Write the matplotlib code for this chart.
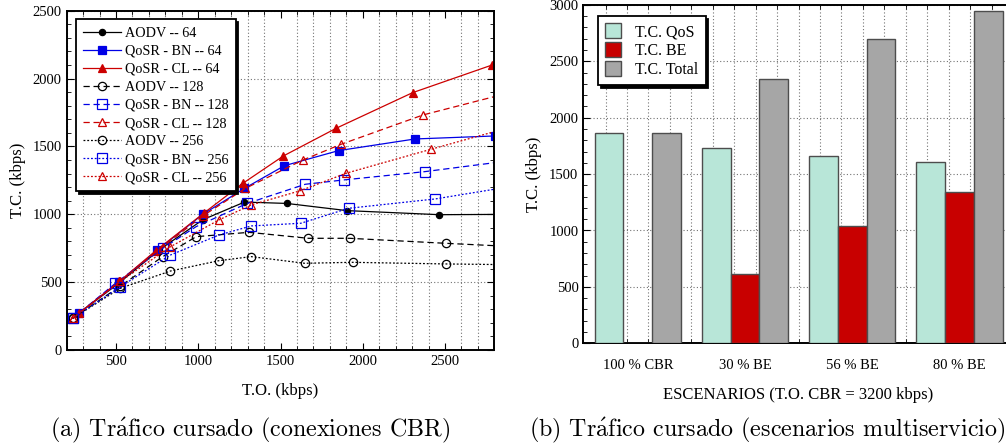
import matplotlib
matplotlib.use("Agg")
import matplotlib.pyplot as plt
from matplotlib.ticker import MultipleLocator, FixedLocator
import numpy as np

# ---- datos (a): trafico cursado vs trafico ofrecido ----
x_aodv_64 = [273, 520, 760, 1028, 1281, 1537, 1904, 2466, 3000]
y_aodv_64 = [270, 495, 735, 960, 1090, 1080, 1027, 997, 1000]
x_bn_64 = [273, 520, 750, 1028, 1281, 1524, 1853, 2318, 2802]
y_bn_64 = [270, 503, 735, 1000, 1191, 1358, 1469, 1555, 1577]
x_cl_64 = [273, 520, 740, 1032, 1271, 1518, 1839, 2303, 2787]
y_cl_64 = [270, 505, 730, 1007, 1228, 1430, 1634, 1896, 2100]

x_aodv_128 = [236, 525, 784, 987, 1308, 1670, 1920, 2507, 3000]
y_aodv_128 = [233, 470, 688, 835, 867, 823, 823, 786, 757]
x_bn_128 = [236, 496, 784, 987, 1297, 1650, 1884, 2376, 3000]
y_bn_128 = [233, 491, 749, 909, 1080, 1221, 1253, 1314, 1411]
x_cl_128 = [236, 520, 784, 1030, 1287, 1636, 1869, 2367, 3000]
y_cl_128 = [233, 505, 761, 990, 1191, 1400, 1516, 1732, 1929]

x_aodv_256 = [236, 526, 831, 1125, 1322, 1646, 1938, 2507, 3000]
y_aodv_256 = [233, 455, 582, 658, 688, 639, 646, 634, 627]
x_bn_256 = [236, 526, 831, 1125, 1322, 1624, 1914, 2441, 3000]
y_bn_256 = [233, 466, 700, 847, 914, 934, 1044, 1113, 1224]
x_cl_256 = [236, 526, 831, 1125, 1322, 1616, 1898, 2415, 3000]
y_cl_256 = [233, 505, 761, 958, 1069, 1172, 1302, 1479, 1676]

# ---- datos (b): escenarios multiservicio ----
escenarios = ["100 % CBR", "30 % BE", "56 % BE", "80 % BE"]
tc_qos = [1862, 1734, 1663, 1610]
tc_be = [0, 612, 1037, 1341]
tc_total = [1862, 2343, 2698, 2949]

SERIF = ["Liberation Serif", "DejaVu Serif"]
plt.rcParams["font.family"] = SERIF
plt.rcParams["font.size"] = 10
plt.rcParams["mathtext.fontset"] = "cm"

RED = "#cc0000"
BLUE = "#0000e6"
DASH = (0, (5, 3))
DOT = (0, (1.5, 1.5))
grid_kw = dict(color="0.45", linestyle=(0, (1, 2)), linewidth=0.8)

fig = plt.figure(figsize=(10.06, 4.48), dpi=100)

# ================= (a) =================
ax = fig.add_axes([66.7 / 1006, 98 / 448, 427.6 / 1006, 339.3 / 448])

series = [
    (x_aodv_64, y_aodv_64, "AODV -- 64", "k", "-", "o", True, 4.5),
    (x_bn_64, y_bn_64, "QoSR - BN -- 64", BLUE, "-", "s", True, 5.5),
    (x_cl_64, y_cl_64, "QoSR - CL -- 64", RED, "-", "^", True, 6),
    (x_aodv_128, y_aodv_128, "AODV -- 128", "k", DASH, "o", False, 6),
    (x_bn_128, y_bn_128, "QoSR - BN -- 128", BLUE, DASH, "s", False, 6.5),
    (x_cl_128, y_cl_128, "QoSR - CL -- 128", RED, DASH, "^", False, 6),
    (x_aodv_256, y_aodv_256, "AODV -- 256", "k", DOT, "o", False, 6),
    (x_bn_256, y_bn_256, "QoSR - BN -- 256", BLUE, DOT, "s", False, 6.5),
    (x_cl_256, y_cl_256, "QoSR - CL -- 256", RED, DOT, "^", False, 6),
]
for xs, ys, lbl, c, ls, mk, filled, ms in series:
    ax.plot(xs, ys, color=c, linestyle=ls, linewidth=0.9, marker=mk,
            markersize=ms, markerfacecolor=c if filled else "none",
            markeredgecolor=c, markeredgewidth=0.9, label=lbl)

ax.set_xlim(200, 2800)
ax.set_ylim(0, 2500)
ax.xaxis.set_major_locator(FixedLocator([500, 1000, 1500, 2000, 2500]))
ax.xaxis.set_minor_locator(MultipleLocator(100))
ax.yaxis.set_major_locator(MultipleLocator(500))
ax.yaxis.set_minor_locator(MultipleLocator(100))
ax.grid(True, which="minor", axis="x", **grid_kw)
ax.grid(True, which="major", axis="y", **grid_kw)
ax.tick_params(which="both", direction="in", top=True, right=True, labelsize=10.5)
ax.tick_params(which="major", length=5)
ax.tick_params(which="minor", length=3)
for s in ax.spines.values():
    s.set_linewidth(1.4)
ax.set_xlabel("T.O. (kbps)", fontsize=12, labelpad=11)
ax.set_ylabel("T.C. (kbps)", fontsize=12, labelpad=5)

leg = ax.legend(loc="upper left", bbox_to_anchor=(0.005, 0.995), fontsize=10.2,
                frameon=True, fancybox=False, edgecolor="k", framealpha=1,
                shadow={"color": "k", "alpha": 1}, handlelength=2.7,
                handletextpad=0.25, labelspacing=0.36, borderpad=0.5)
leg.get_frame().set_linewidth(1.3)
leg.set_zorder(10)

# ================= (b) =================
bx = fig.add_axes([583.3 / 1006, 104.7 / 448, 430.6 / 1006, 338.4 / 448])

pos = np.arange(len(escenarios))
w = 0.268
bar_kw = dict(width=w, edgecolor="0.3", linewidth=1.0, zorder=3)
bx.bar(pos - w, tc_qos, color="#b8e6d8", label="T.C. QoS", **bar_kw)
bx.bar(pos, tc_be, color="#c80000", label="T.C. BE", **bar_kw)
bx.bar(pos + w, tc_total, color="#a6a6a6", label="T.C. Total", **bar_kw)

bx.set_xlim(-0.508, 3.508)
bx.set_ylim(0, 3000)
bx.set_xticks(pos)
bx.set_xticklabels(escenarios, fontsize=10.7)
bx.xaxis.set_minor_locator(FixedLocator(np.arange(-0.3, 3.5, 0.2)))
bx.yaxis.set_major_locator(MultipleLocator(500))
bx.yaxis.set_minor_locator(MultipleLocator(100))
bx.set_axisbelow(True)
bx.grid(True, which="minor", axis="x", **grid_kw)
bx.grid(True, which="major", axis="y", **grid_kw)
bx.tick_params(which="both", direction="in", top=True, labelsize=10.5)
bx.tick_params(axis="x", which="major", length=0, pad=11)
bx.tick_params(which="minor", length=3)
bx.tick_params(axis="y", which="major", length=5)
for s in bx.spines.values():
    s.set_linewidth(1.4)
bx.spines["right"].set_visible(False)
bx.set_xlabel("ESCENARIOS (T.O. CBR = 3200 kbps)", fontsize=12, labelpad=11)
bx.set_ylabel("T.C. (kbps)", fontsize=12, labelpad=5)

leg2 = bx.legend(loc="upper left", bbox_to_anchor=(0.015, 0.99), fontsize=11.5,
                 frameon=True, fancybox=False, edgecolor="k", framealpha=1,
                 shadow={"color": "k", "alpha": 1}, handlelength=1.0,
                 handleheight=1.0, handletextpad=0.9, labelspacing=0.15,
                 borderpad=0.45)
leg2.get_frame().set_linewidth(1.3)
leg2.set_zorder(10)

# pies de figura
CAP = ["cmr10", "DejaVu Serif"]
fig.text(250 / 1006, 18 / 448, r"(a) Tr$\acute{\mathrm{a}}$fico cursado (conexiones CBR)",
         ha="center", va="center", fontsize=17.3, family=CAP)
fig.text(529 / 1006, 18 / 448, r"(b) Tr$\acute{\mathrm{a}}$fico cursado (escenarios multiservicio)",
         ha="left", va="center", fontsize=17.3, family=CAP)

plt.savefig("out.png", dpi=100)
plt.close()
